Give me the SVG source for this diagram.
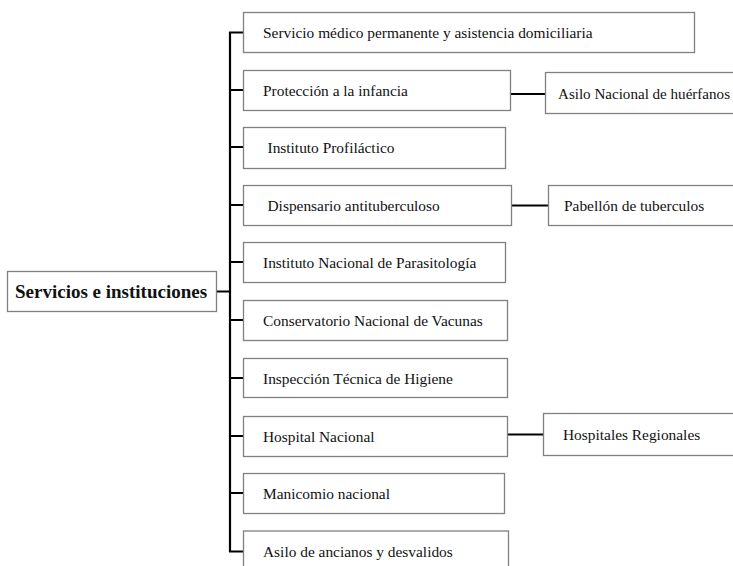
<svg xmlns="http://www.w3.org/2000/svg" width="733" height="566" viewBox="0 0 733 566">
<style>
.box{fill:#fff;stroke:#808080;stroke-width:1.3}
.t{font-family:"Liberation Serif","Times New Roman",serif;font-size:15.4px;fill:#111}
.root{font-family:"Liberation Serif","Times New Roman",serif;font-size:19px;font-weight:bold;fill:#111}
.c{stroke:#000;stroke-width:2.2;fill:none}
</style>
<rect width="733" height="566" fill="#fff"/>
<g id="connectors">
<path class="c" d="M217 291.5H230M230 31.5V552M229 32.5H243M229 90H243M229 147H243M229 205H243M229 262H243M229 320H243M229 378H243M229 436H243M229 493H243M229 551.5H243"/>
<path class="c" d="M511 94H545M512 205.5H548M508 434.5H543"/>
</g>
<g id="root"><rect class="box" x="7.5" y="271.5" width="209" height="40"/><text class="root" x="15" y="298">Servicios e instituciones</text></g>
<g id="n1"><rect class="box" x="243.5" y="12.5" width="451" height="40"/><text class="t" x="263" y="38">Servicio médico permanente y asistencia domiciliaria</text></g>
<g id="n2"><rect class="box" x="243.5" y="70.5" width="267" height="40"/><text class="t" x="263" y="95.5">Protección a la infancia</text></g>
<g id="n2a"><rect class="box" x="545.5" y="72.5" width="200" height="41"/><text class="t" x="558" y="98.5" textLength="172" lengthAdjust="spacingAndGlyphs">Asilo Nacional de huérfanos</text></g>
<g id="n3"><rect class="box" x="243.5" y="127.5" width="262" height="41"/><text class="t" x="267.5" y="152.5">Instituto Profiláctico</text></g>
<g id="n4"><rect class="box" x="243.5" y="185.5" width="268" height="40"/><text class="t" x="267.5" y="210.5">Dispensario antituberculoso</text></g>
<g id="n4a"><rect class="box" x="548.5" y="185.5" width="200" height="40"/><text class="t" x="564" y="210.5">Pabellón de tuberculos</text></g>
<g id="n5"><rect class="box" x="243.5" y="242.5" width="262" height="40"/><text class="t" x="263" y="267.5">Instituto Nacional de Parasitología</text></g>
<g id="n6"><rect class="box" x="243.5" y="300.5" width="264" height="40"/><text class="t" x="263" y="325.5">Conservatorio Nacional de Vacunas</text></g>
<g id="n7"><rect class="box" x="243.5" y="358.5" width="264" height="39"/><text class="t" x="263" y="383.5">Inspección Técnica de Higiene</text></g>
<g id="n8"><rect class="box" x="243.5" y="416.5" width="264" height="40"/><text class="t" x="263" y="441.5">Hospital Nacional</text></g>
<g id="n8a"><rect class="box" x="543.5" y="413.5" width="200" height="42"/><text class="t" x="563" y="439.5">Hospitales Regionales</text></g>
<g id="n9"><rect class="box" x="243.5" y="473.5" width="261" height="40"/><text class="t" x="263" y="498.5">Manicomio nacional</text></g>
<g id="n10"><rect class="box" x="243.5" y="531" width="265" height="45"/><text class="t" x="263" y="556.5">Asilo de ancianos y desvalidos</text></g>
</svg>
